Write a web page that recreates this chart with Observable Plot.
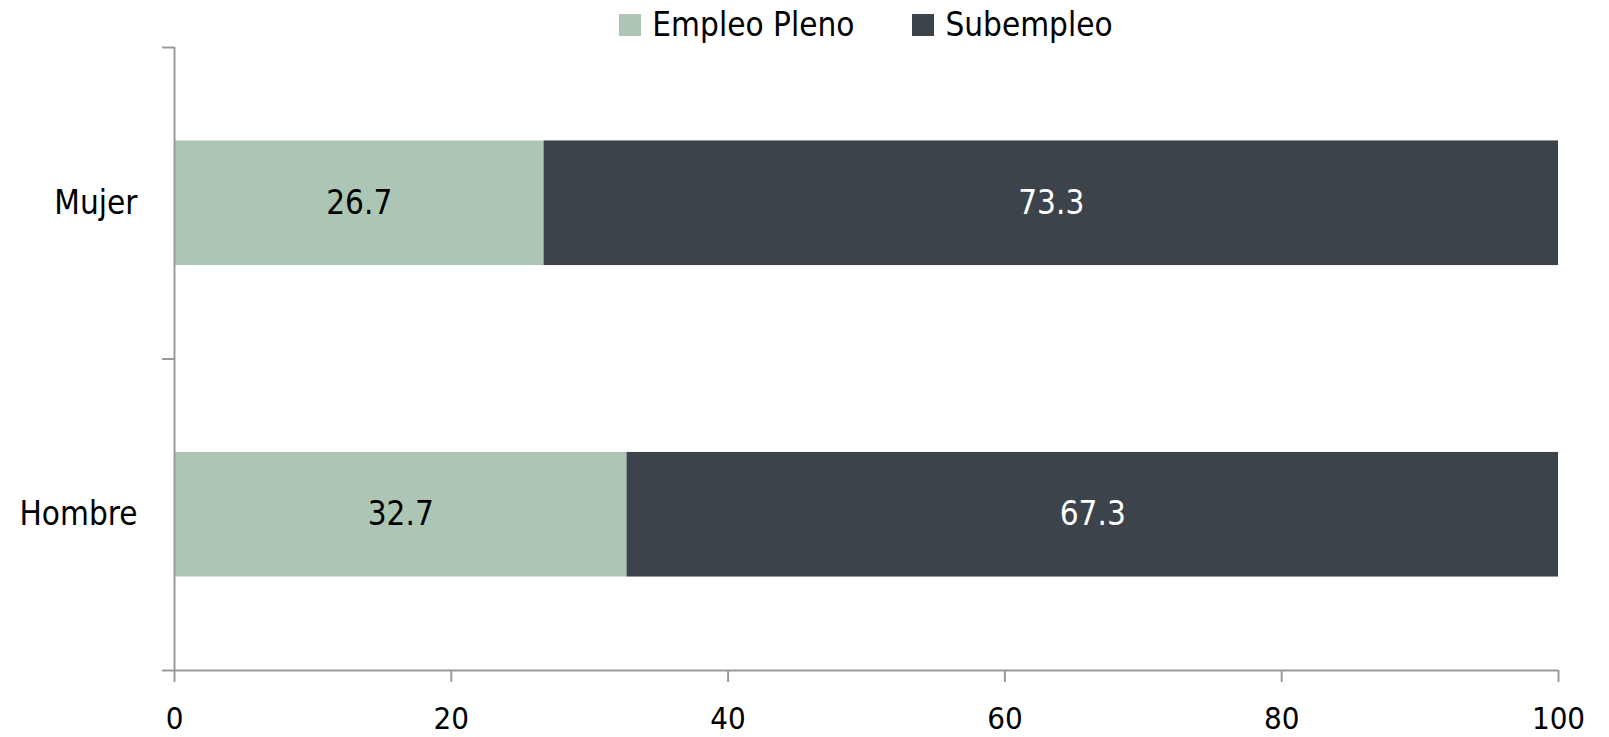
<!DOCTYPE html>
<html>
<head>
<meta charset="utf-8">
<script src="https://cdn.jsdelivr.net/npm/d3@7"></script>
<script src="https://cdn.jsdelivr.net/npm/@observablehq/plot@0.6"></script>
<style>
  html, body { margin: 0; padding: 0; background: #fff; }
  body { width: 1609px; height: 737px; overflow: hidden; font-family: "DejaVu Sans Condensed", "Liberation Sans Narrow", sans-serif; }
  #legend { height: 40px; box-sizing: border-box; padding: 9px 51px 0 174px; display: flex; justify-content: center; align-items: center; font-size: 33px; color: #000; }
  .item { display: flex; align-items: center; margin: 0 29px; }
  .sw { width: 22px; height: 22px; margin-right: 11px; }
  #chart svg { display: block; }
</style>
</head>
<body>
<div id="legend"></div>
<div id="chart"></div>
<script>
const categories = ["Mujer", "Hombre"];
const series = ["Empleo Pleno", "Subempleo"];
const empleoPleno = [26.7, 32.7];
const subempleo = [73.3, 67.3];
const colors = ["#adc5b4", "#3d434b"];
const textColors = ["#000000", "#ffffff"];
const xTicks = [0, 20, 40, 60, 80, 100];

// category position on a numeric y scale: top category highest
const pos = categories.map((c, i) => categories.length - i - 0.5);
const rows = [];
categories.forEach((c, i) => {
  const vals = [empleoPleno[i], subempleo[i]];
  let start = 0;
  vals.forEach((v, j) => {
    rows.push({cat: c, serie: series[j], si: j, value: v, x1: start, x2: start + v, y: pos[i]});
    start += v;
  });
});

const legend = document.getElementById("legend");
series.forEach((s, j) => {
  const it = document.createElement("div");
  it.className = "item";
  const sw = document.createElement("div");
  sw.className = "sw";
  sw.style.background = colors[j];
  const t = document.createElement("span");
  t.textContent = s;
  it.appendChild(sw); it.appendChild(t);
  legend.appendChild(it);
});

const fontFamily = '"DejaVu Sans Condensed", "Liberation Sans Narrow", sans-serif';
const axisColor = "#9a9a9a";

const chart = Plot.plot({
  width: 1609,
  height: 697,
  marginTop: 7,
  marginBottom: 67,
  marginLeft: 174,
  marginRight: 51,
  style: {fontFamily, fontSize: "33px", color: "#000", background: "#fff"},
  x: {domain: [0, 100]},
  y: {domain: [0, categories.length]},
  color: {domain: series, range: colors},
  marks: [
    Plot.rectX(rows, {x1: "x1", x2: "x2", y1: d => d.y - 0.2, y2: d => d.y + 0.2, fill: "serie"}),
    Plot.text(rows.filter(d => d.si === 0), {x: d => (d.x1 + d.x2) / 2, y: "y", text: d => d.value.toFixed(1), fill: textColors[0], fontSize: 33}),
    Plot.text(rows.filter(d => d.si === 1), {x: d => (d.x1 + d.x2) / 2, y: "y", text: d => d.value.toFixed(1), fill: textColors[1], fontSize: 33}),
    Plot.ruleX([0], {stroke: axisColor, strokeWidth: 2}),
    Plot.ruleY([0], {stroke: axisColor, strokeWidth: 2}),
    Plot.axisX({ticks: xTicks, tickSize: 12, tickPadding: 24, stroke: axisColor, strokeWidth: 2, fill: "#000", fontSize: 31, label: null, tickFormat: d => String(d)}),
    Plot.axisY({ticks: d3.range(categories.length + 1), tickSize: 12, stroke: axisColor, strokeWidth: 2, tickFormat: () => "", label: null}),
    Plot.axisY({ticks: pos, tickSize: 0, tickPadding: 37, fill: "#000", label: null, tickFormat: v => categories[pos.indexOf(v)]})
  ]
});
document.getElementById("chart").appendChild(chart);
</script>
</body>
</html>
